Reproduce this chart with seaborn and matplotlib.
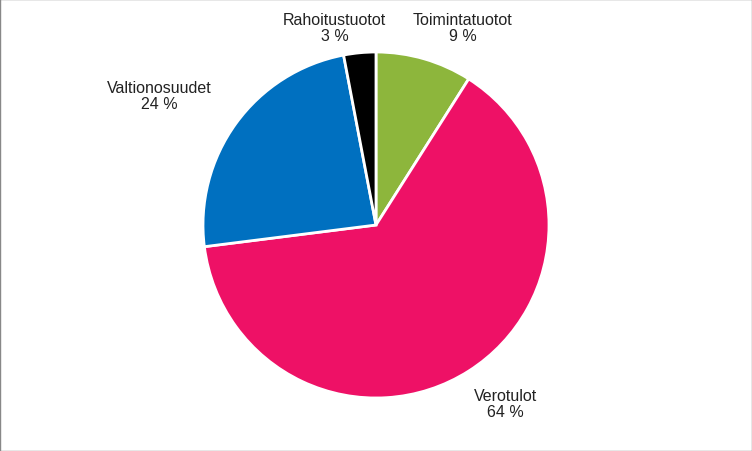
import matplotlib.pyplot as plt
import seaborn as sns

sns.set_theme(style="white")
plt.rcParams['font.family'] = ['Liberation Sans', 'DejaVu Sans']

labels = ['Toimintatuotot', 'Verotulot', 'Valtionosuudet', 'Rahoitustuotot']
values = [9, 64, 24, 3]
colors = ['#8db63c', '#ee1166', '#0070c0', '#000000']
label_pos = [(0.50, 1.14), (0.75, -1.03), (-1.25, 0.75), (-0.24, 1.14)]

fig = plt.figure(figsize=(7.52, 4.52), dpi=100)
ax = fig.add_axes([0, 0, 1, 1])
wedges, _ = ax.pie(values, colors=colors, startangle=90, counterclock=False,
                   wedgeprops=dict(edgecolor='white', linewidth=2))
for lab, v, (x, y) in zip(labels, values, label_pos):
    ax.text(x, y, f"{lab}\n{v} %", ha='center', va='center', fontsize=11.5,
            color='#222222', linespacing=1.1)

r = 173
ax.set_xlim(-376 / r, (752 - 376) / r)
ax.set_ylim(-(452 - 226) / r, 226 / r)
ax.set_aspect('auto')
ax.axis('off')
fig.patches.append(plt.Rectangle((0, 0), 1, 1, transform=fig.transFigure,
                                 fill=False, edgecolor='#888888', linewidth=1))
fig.savefig('out.png', dpi=100)
